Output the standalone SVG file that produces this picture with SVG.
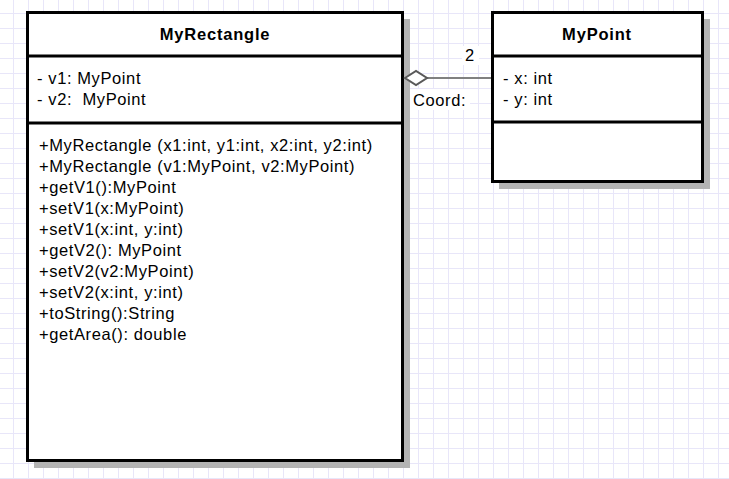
<svg xmlns="http://www.w3.org/2000/svg" width="729" height="479" viewBox="0 0 729 479">
<defs>
<pattern id="grid" x="13" y="13" width="15" height="15" patternUnits="userSpaceOnUse">
<path d="M0 0.5H15M0.5 0V15" stroke="#e8e6f9" stroke-width="1" fill="none"/>
</pattern>
</defs>
<style>
.box{fill:#fff;stroke:#000;stroke-width:3}
.sh{fill:#b3b3b3}
.div{stroke:#000;stroke-width:3}
.t{font-family:"Liberation Sans",Arial,sans-serif;font-size:16.5px;letter-spacing:0.6px;fill:#000;white-space:pre}
.b{font-weight:bold;text-anchor:middle;letter-spacing:0.8px}
</style>
<rect width="729" height="479" fill="#fff"/>
<rect width="729" height="479" fill="url(#grid)"/>
<g id="MyRectangle">
<rect class="sh" x="34" y="19" width="376" height="449"/>
<rect class="box" x="27.5" y="12.5" width="375" height="448"/>
<line class="div" x1="27" y1="56" x2="403" y2="56"/>
<line class="div" x1="27" y1="123" x2="403" y2="123"/>
<text class="t b" x="215" y="40">MyRectangle</text>
<text class="t" x="37" y="84">- v1: MyPoint</text>
<text class="t" x="37" y="105" xml:space="preserve">- v2:  MyPoint</text>
<text class="t" x="39" y="151">+MyRectangle (x1:int, y1:int, x2:int, y2:int)</text>
<text class="t" x="39" y="172">+MyRectangle (v1:MyPoint, v2:MyPoint)</text>
<text class="t" x="39" y="193">+getV1():MyPoint</text>
<text class="t" x="39" y="214">+setV1(x:MyPoint)</text>
<text class="t" x="39" y="235">+setV1(x:int, y:int)</text>
<text class="t" x="39" y="256">+getV2(): MyPoint</text>
<text class="t" x="39" y="277">+setV2(v2:MyPoint)</text>
<text class="t" x="39" y="298">+setV2(x:int, y:int)</text>
<text class="t" x="39" y="319">+toString():String</text>
<text class="t" x="39" y="340">+getArea(): double</text>
</g>
<g id="MyPoint">
<rect class="sh" x="499" y="19" width="211" height="170"/>
<rect class="box" x="492.5" y="12.5" width="210" height="169"/>
<line class="div" x1="492" y1="56" x2="703" y2="56"/>
<line class="div" x1="492" y1="122" x2="703" y2="122"/>
<text class="t b" x="597" y="40">MyPoint</text>
<text class="t" x="503" y="84">- x: int</text>
<text class="t" x="503" y="105">- y: int</text>
</g>
<g id="connectors">
<line x1="427" y1="78" x2="491" y2="78" stroke="#808080" stroke-width="2"/>
<path d="M405 78L416 71L427 78L416 85Z" fill="#fff" stroke="#595959" stroke-width="2"/>
<rect x="462" y="46" width="17" height="19" fill="#fff"/>
<text class="t" x="465" y="61">2</text>
<rect x="410" y="89" width="60" height="21" fill="#fff"/>
<text class="t" x="413" y="106">Coord:</text>
</g>
</svg>
